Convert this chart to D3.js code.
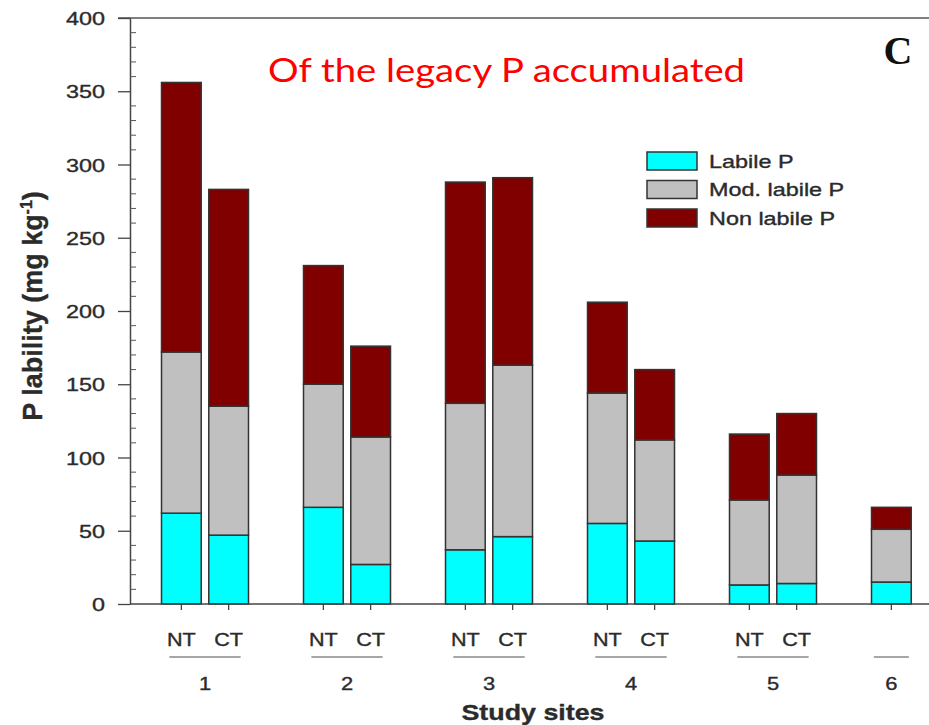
<!DOCTYPE html>
<html>
<head>
<meta charset="utf-8">
<script src="https://cdn.jsdelivr.net/npm/d3@7"></script>
<style>
  html, body { margin: 0; padding: 0; background: #fff; }
  svg { display: block; }
  .lbl { font-family: "Liberation Sans", Arial, sans-serif; fill: #2b2b2b; stroke: #2b2b2b; stroke-width: 0.35; }
</style>
</head>
<body>
<svg id="chart" width="929" height="725"></svg>
<script>
// Phosphorus lability fractions per study site and tillage system
const sites = ["1", "2", "3", "4", "5", "6"];
const barSite = ["1", "1", "2", "2", "3", "3", "4", "4", "5", "5", "6"];
const barTreatment = ["NT", "CT", "NT", "CT", "NT", "CT", "NT", "CT", "NT", "CT", ""];
const labileP = [62, 47, 66, 27, 37, 46, 55, 43, 13, 14, 15];
const modLabileP = [110, 88, 84, 87, 100, 117, 89, 69, 58, 74, 36];
const nonLabileP = [184, 148, 81, 62, 151, 128, 62, 48, 45, 42, 15];
const seriesNames = ["Labile P", "Mod. labile P", "Non labile P"];
const yTicks = [0, 50, 100, 150, 200, 250, 300, 350, 400];

const colors = ["#00ffff", "#c0c0c0", "#800000"];

const svg = d3.select("#chart");

const y = d3.scaleLinear().domain([0, 400]).range([604, 18]);
const xSite = d3.scaleBand().domain(sites).range([134.5, 986.5]).padding(0);
const xSlot = d3.scaleBand().domain([0, 1]).range([27, 114]).paddingInner(0.16).paddingOuter(0);

// slot of each bar within its site group
const slotIndex = barSite.map((s, i) => barSite.slice(0, i).filter(t => t === s).length);
const rows = barSite.map((s, i) => ({
  site: s, trt: barTreatment[i], slot: slotIndex[i],
  "Labile P": labileP[i], "Mod. labile P": modLabileP[i], "Non labile P": nonLabileP[i]
}));
const barX = r => xSite(r.site) + xSlot(r.slot);
const barCx = r => barX(r) + xSlot.bandwidth() / 2;

const stacked = d3.stack().keys(seriesNames)(rows);

// text drawn with a slight horizontal stretch
function stretchText(sel, x, y0, sx) {
  sel.attr("x", 0).attr("y", 0)
     .attr("transform", `translate(${x},${y0}) scale(${sx},1)`);
  return sel;
}

// plot frame: top border
svg.append("line").attr("x1", 118).attr("x2", 929).attr("y1", y(400)).attr("y2", y(400))
  .attr("stroke", "#555").attr("stroke-width", 1.5);

// bars
svg.append("g").selectAll("g").data(stacked).join("g")
  .attr("fill", (d, i) => colors[i])
  .selectAll("rect").data(d => d).join("rect")
  .attr("x", d => barX(d.data))
  .attr("width", xSlot.bandwidth())
  .attr("y", d => y(d[1]))
  .attr("height", d => y(d[0]) - y(d[1]))
  .attr("stroke", "#333").attr("stroke-width", 1.5);

// y axis
const yAxis = svg.append("g").attr("transform", "translate(130,0)")
  .call(d3.axisLeft(y).tickValues(yTicks).tickSize(12).tickPadding(13).tickSizeOuter(0));
yAxis.select(".domain").attr("stroke", "#444").attr("stroke-width", 1.5);
yAxis.selectAll(".tick line").attr("stroke", "#444").attr("stroke-width", 1.3);
yAxis.selectAll(".tick text").each(function () {
  const t = d3.select(this);
  const xx = +t.attr("x");
  t.attr("dy", null).attr("class", "lbl");
  stretchText(t, xx, 6.5, 1.3);
}).attr("font-family", null).attr("fill", null).attr("font-size", 18);

// minor ticks inside the axis
const minor = d3.range(0, 401, 10).filter(v => v % 50 !== 0);
svg.append("g").selectAll("line").data(minor).join("line")
  .attr("x1", 130).attr("x2", 136).attr("y1", d => y(d)).attr("y2", d => y(d))
  .attr("stroke", "#555").attr("stroke-width", 1);

// x axis baseline and ticks under each bar
svg.append("line").attr("x1", 130).attr("x2", 929).attr("y1", y(0)).attr("y2", y(0))
  .attr("stroke", "#444").attr("stroke-width", 1.5);
svg.append("g").selectAll("line").data(rows).join("line")
  .attr("x1", barCx).attr("x2", barCx).attr("y1", y(0)).attr("y2", y(0) + 6)
  .attr("stroke", "#444").attr("stroke-width", 1.3);

// treatment labels
svg.append("g").selectAll("text").data(rows.filter(r => r.trt)).join("text")
  .attr("class", "lbl").attr("text-anchor", "middle").attr("font-size", 18)
  .text(r => r.trt)
  .each(function (r) { stretchText(d3.select(this), barCx(r), 646, 1.2); });

// site underlines and site numbers
const siteGroups = sites.map(s => {
  const rs = rows.filter(r => r.site === s);
  const first = barCx(rs[0]), last = barCx(rs[rs.length - 1]);
  const half = rs.length > 1 ? 12 : 17.5;
  return { site: s, x1: rs.length > 1 ? first - half : first - half, x2: last + half, cx: (first + last) / 2 };
});
svg.append("g").selectAll("line").data(siteGroups).join("line")
  .attr("x1", d => d.x1).attr("x2", d => d.x2).attr("y1", 657).attr("y2", 657)
  .attr("stroke", "#888").attr("stroke-width", 1.5);
svg.append("g").selectAll("text").data(siteGroups).join("text")
  .attr("class", "lbl").attr("text-anchor", "middle").attr("font-size", 18)
  .text(d => d.site)
  .each(function (d) { stretchText(d3.select(this), d.cx, 690, 1.22); });

// axis titles
stretchText(svg.append("text"), 533, 720, 1.22)
  .attr("class", "lbl").attr("text-anchor", "middle").attr("font-weight", "bold")
  .attr("font-size", 22).text("Study sites");

const yTitle = svg.append("text")
  .attr("class", "lbl").attr("text-anchor", "middle")
  .attr("transform", "translate(42,306) scale(1.05,1) rotate(-90)")
  .attr("font-weight", "bold").attr("font-size", 27);
yTitle.append("tspan").text("P lability (mg kg");
yTitle.append("tspan").attr("font-size", 16).attr("dy", -10).text("-1");
yTitle.append("tspan").attr("dy", 10).text(")");

// legend
const legend = svg.append("g");
seriesNames.forEach((name, i) => {
  legend.append("rect").attr("x", 647).attr("y", 152 + i * 28.5).attr("width", 50).attr("height", 18)
    .attr("fill", colors[i]).attr("stroke", "#333").attr("stroke-width", 1.5);
  stretchText(legend.append("text"), 709, 167.5 + i * 28.5, 1.3)
    .attr("class", "lbl").attr("font-size", 18)
    .text(name);
});

// panel letter
svg.append("text").attr("x", 898).attr("y", 64).attr("text-anchor", "middle")
  .attr("font-family", "Liberation Serif, Times New Roman, serif").attr("font-weight", "bold")
  .attr("font-size", 40).attr("fill", "#111").text("C");

// headline
svg.append("text").attr("x", 268).attr("y", 82)
  .attr("font-family", "Lato, Carlito, sans-serif").attr("font-size", 33).attr("fill", "#ff0000")
  .attr("textLength", 477).attr("lengthAdjust", "spacingAndGlyphs")
  .text("Of the legacy P accumulated");
</script>
</body>
</html>
